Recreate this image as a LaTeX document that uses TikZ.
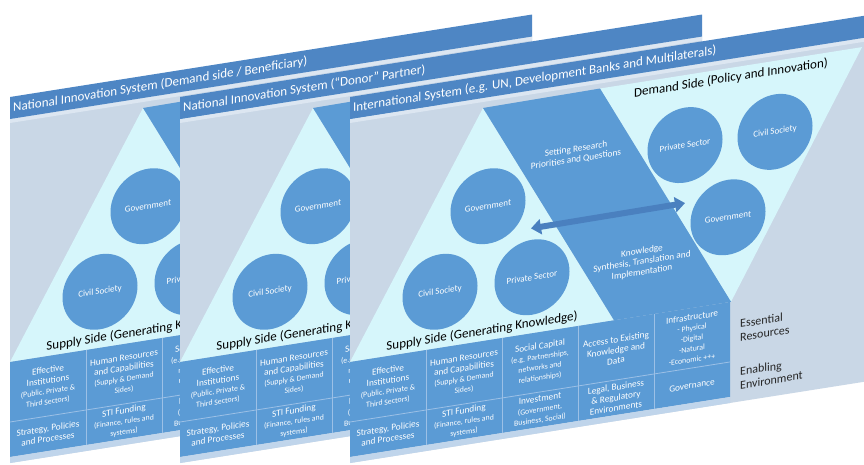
\documentclass[tikz,border=0pt]{standalone}
\usepackage{fontspec}
\setmainfont{Carlito}
\usetikzlibrary{arrows.meta}
\definecolor{barblue}{HTML}{4E86C4}
\definecolor{cellblue}{HTML}{5B9BD5}
\definecolor{cyanc}{HTML}{D6F6FB}
\definecolor{bodygray}{HTML}{C9D7E6}
\definecolor{stripc}{HTML}{DCE6F1}
\definecolor{bottomc}{HTML}{C0D5EB}
\definecolor{arrowblue}{HTML}{4A80BF}
\definecolor{gridc}{HTML}{9CC0E6}
\definecolor{labeldark}{HTML}{262626}
\newcommand\smtxt[1]{{\fontsize{7.8}{9}\selectfont #1}}
\tikzset{
 titletext/.style={anchor=west, text=white, font=\fontsize{13}{15}\selectfont, inner sep=0, transform shape},
 circ/.style={circle, fill=cellblue, minimum size=75pt, inner sep=0, text=white, font=\fontsize{9}{10}\selectfont, transform shape},
 bandtext/.style={text=white, align=center, font=\fontsize{9.3}{10.5}\selectfont, inner sep=0, transform shape},
 sidetext/.style={anchor=base, text=black, font=\fontsize{13}{15}\selectfont, inner sep=0, transform shape},
 celltext/.style={text=white, align=center, font=\fontsize{9.3}{10.5}\selectfont, inner sep=0, transform shape},
 sidelabel/.style={anchor=west, text=labeldark, align=left, font=\fontsize{12}{13.5}\selectfont, inner sep=0, transform shape},
 dblarrow/.style={draw=arrowblue, line width=6pt, {Triangle[width=15pt,length=10pt]}-{Triangle[width=15pt,length=10pt]}},
 gridline/.style={draw=gridc, line width=0.8pt},
}
% #1 = x offset, #2 = name prefix, #3 = title, #4 = 1 for the front panel (all of it visible)
\newcommand\drawpanel[4]{%
\begin{scope}[shift={(#1,0)}, yslant=0.158]
  \fill[bodygray] (0,119) rectangle (522,463);
  \fill[stripc] (0,119) rectangle (522,123);
  \fill[barblue] (0,97) rectangle (522,119);
  \node[titletext] (#2title) at (3,108.5) {#3};
  \fill[cyanc] (133,129) -- (0,362) -- (264,362) -- cycle;
  \fill[cyanc] (250,128) -- (512,128) -- (381,362) -- cycle;
  \fill[cellblue] (133,129) -- (250,128) -- (381,362) -- (264,362) -- cycle;
  \node[circ] (#2sgov) at (138,228) {Government};
  \node[circ] (#2sciv) at (90,306) {Civil Society};
  \node[circ] (#2spriv) at (182,306) {Private Sector};
  \node[sidetext] (#2supply) at (132,356) {Supply Side (Generating Knowledge)};
  \fill[cellblue] (0,362) rectangle (380,457);
  \fill[bottomc] (0,457) rectangle (380,463);
  \draw[gridline] (0,422) -- (380,422);
  \foreach \gx in {76,152,228,304} {\draw[gridline] (\gx,362) -- (\gx,457);}
  \node[celltext] (#2c11) at (38,392) {Effective\\Institutions\\\smtxt{(Public, Private \&}\\\smtxt{Third Sectors)}};
  \node[celltext] (#2c12) at (114,392) {Human Resources\\and Capabilities\\\smtxt{(Supply \& Demand}\\\smtxt{Sides)}};
  \node[celltext] (#2c13) at (190,392) {Social Capital\\\smtxt{(e.g. Partnerships,}\\\smtxt{networks and}\\\smtxt{relationships)}};
  \node[celltext] (#2c21) at (38,439.5) {Strategy, Policies\\and Processes};
  \node[celltext] (#2c22) at (114,439.5) {STI Funding\\\smtxt{(Finance, rules and}\\\smtxt{systems)}};
  \node[celltext] (#2c23) at (190,439.5) {Investment\\\smtxt{(Government,}\\\smtxt{Business, Social)}};
  \ifnum#4=1
  \node[circ] (#2dpriv) at (335,198) {Private Sector};
  \node[circ] (#2dciv) at (425,199) {Civil Society};
  \node[circ] (#2dgov) at (378,277) {Government};
  \node[bandtext] (#2set) at (226,190) {Setting Research\\Priorities and Questions};
  \node[bandtext] (#2know) at (292,308) {Knowledge\\Synthesis, Translation and\\Implementation};
  \coordinate (#2al) at (181,257);
  \coordinate (#2ar) at (335,256);
  \draw[dblarrow] (#2al) -- (#2ar);
  \node[sidetext] (#2demand) at (381,142) {Demand Side (Policy and Innovation)};
  \node[celltext] (#2c14) at (266,392) {Access to Existing\\Knowledge and\\Data};
  \node[celltext] (#2c15) at (342,392) {Infrastructure\\\smtxt{- Physical}\\\smtxt{-Digital}\\\smtxt{-Natural}\\\smtxt{-Economic +++}};
  \node[celltext] (#2c24) at (266,439.5) {Legal, Business\\\& Regulatory\\Environments};
  \node[celltext] (#2c25) at (342,439.5) {Governance};
  \node[sidelabel] (#2ess) at (390,392) {Essential\\Resources};
  \node[sidelabel] (#2env) at (390,440) {Enabling\\Environment};
  \fi
\end{scope}}
\begin{document}
\begin{tikzpicture}[x=1pt,y=-1pt]
\useasboundingbox (0,0) rectangle (864,464);
\clip (0,0) rectangle (864,464);
\fill[white] (0,0) rectangle (864,464);
\drawpanel{10}{pa}{National Innovation System (Demand side / Beneficiary)}{0}
\drawpanel{180}{pb}{National Innovation System (“Donor” Partner)}{0}
\drawpanel{350}{pc}{International System (e.g. UN, Development Banks and Multilaterals)}{1}
\end{tikzpicture}
\end{document}
